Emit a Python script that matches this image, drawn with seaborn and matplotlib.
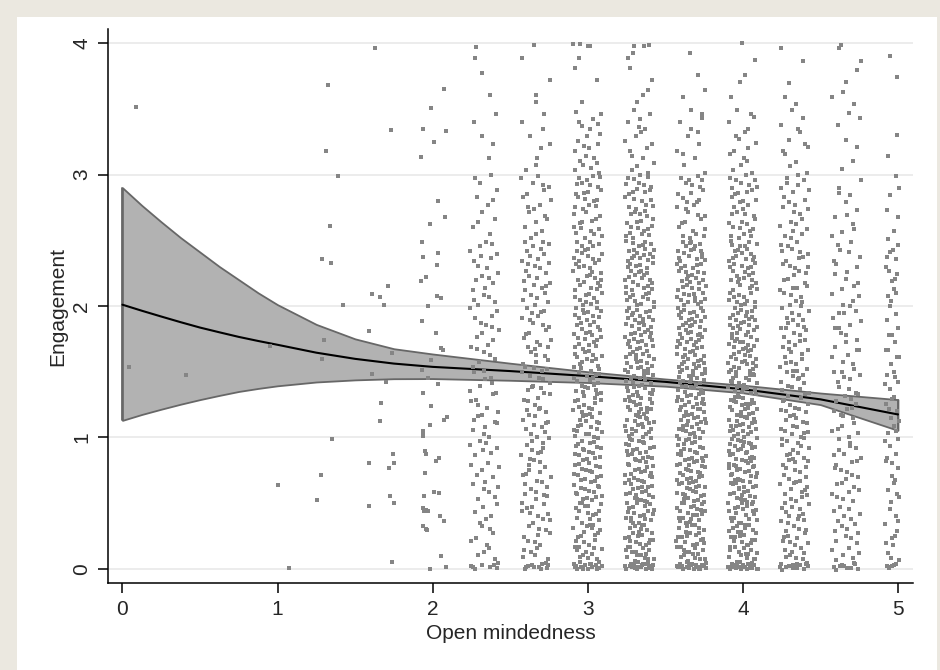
import numpy as np
import pandas as pd
import seaborn as sns
import matplotlib
matplotlib.use("Agg")
import matplotlib.pyplot as plt
from matplotlib.patches import Rectangle

# ---- data ----
# sparse, individually readable points (x already jittered)
sparse_x = [0.042, 0.087, 0.411, 0.949, 1.003, 1.071,
            1.256, 1.280, 1.288, 1.288, 1.301, 1.312, 1.327, 1.340, 1.342, 1.353, 1.390, 1.420,
            1.589, 1.591, 1.591, 1.611, 1.611, 1.630, 1.658, 1.660, 1.665, 1.688, 1.701, 1.710,
            1.720, 1.725, 1.729, 1.736, 1.740, 1.746, 1.750, 1.751,
            1.925, 1.927, 1.931, 1.933, 1.933, 1.935, 1.935, 1.935, 1.935, 1.935, 1.937, 1.940,
            1.945, 1.946, 1.950, 1.956, 1.950, 1.955, 1.960, 1.967, 1.940, 1.955, 1.965, 1.959,
            1.972, 1.972, 1.981, 1.983, 1.985, 1.987, 1.989, 1.990, 2.008, 2.010, 2.019, 2.023,
            2.026, 2.028, 2.032, 2.032, 2.036, 2.043, 2.043, 2.049, 2.052, 2.056, 2.056, 2.068,
            2.071, 2.075, 2.075, 2.081, 2.084, 2.084, 2.090]
sparse_y = [1.539, 3.516, 1.473, 1.694, 0.635, 0.010,
            0.526, 0.711, 2.360, 1.597, 1.745, 3.180, 3.678, 2.608, 2.326, 0.988, 2.987, 2.004,
            0.802, 1.811, 0.482, 2.093, 1.483, 3.960, 1.125, 2.070, 1.265, 2.009, 1.422, 2.154,
            0.770, 0.551, 3.340, 0.053, 1.643, 0.871, 0.505, 0.802,
            3.134, 2.192, 1.516, 2.484, 1.887, 3.350, 1.336, 1.050, 1.030, 1.010, 2.372, 0.460,
            0.440, 0.551, 0.894, 0.876, 0.730, 0.450, 0.445, 0.440, 0.330, 0.300, 0.295, 2.222,
            1.999, 1.453, -0.002, 2.620, 1.095, 1.242, 1.587, 3.505, 3.250, 0.584, 1.796, 0.823,
            2.314, 2.075, 2.800, 1.407, 2.405, 0.843, 0.581, 0.406, 2.063, 1.682, 0.097, 1.663,
            0.366, 3.650, 1.130, 2.680, 3.330, 0.015, 1.158]

# dense columns: counts per engagement band
dense_cols = [7/3, 8/3, 3.0, 10/3, 11/3, 4.0, 13/3, 14/3, 5.0]
band_edges = [0.0, 0.5, 1.0, 1.5, 2.0, 2.5, 3.0, 3.5, 4.0]
floor_counts = [6, 8, 12, 15, 15, 18, 10, 8, 4]       # piled at 0
top_counts = [1, 1, 3, 2, 0, 1, 0, 1, 0]              # piled at 4
band_counts = [
    [18, 20, 22, 20, 22, 12, 5, 3],
    [28, 30, 30, 30, 30, 20, 9, 4],
    [45, 50, 50, 48, 45, 35, 22, 5],
    [60, 62, 62, 60, 55, 40, 18, 8],
    [62, 65, 65, 62, 55, 30, 13, 4],
    [62, 68, 66, 60, 50, 35, 17, 4],
    [36, 38, 38, 35, 30, 25, 13, 5],
    [24, 26, 25, 22, 18, 12, 7, 7],
    [14, 15, 15, 14, 14, 7, 2, 2],
]

# fitted curve and confidence band
fit_x = [0, 0.125, 0.25, 0.375, 0.5, 0.625, 0.75, 0.875, 1.0, 1.25, 1.5, 1.75,
         2.0, 2.5, 3.0, 3.5, 4.0, 4.5, 5.0]
fit_y = [2.01, 1.964, 1.92, 1.877, 1.836, 1.80, 1.765, 1.734, 1.705, 1.645, 1.598, 1.562,
         1.537, 1.505, 1.467, 1.423, 1.367, 1.29, 1.175]
ci_hi = [2.90, 2.765, 2.64, 2.52, 2.41, 2.30, 2.20, 2.10, 2.01, 1.86, 1.75, 1.675,
         1.635, 1.565, 1.50, 1.445, 1.398, 1.338, 1.288]
ci_lo = [1.13, 1.175, 1.215, 1.253, 1.288, 1.32, 1.35, 1.373, 1.393, 1.422, 1.438, 1.447,
         1.448, 1.435, 1.418, 1.39, 1.34, 1.25, 1.054]

x_ticks = [0, 1, 2, 3, 4, 5]
y_ticks = [0, 1, 2, 3, 4]


# spread binned counts over their cells (Halton layout, bases 2 and 3)
def radical_inverse(idx, base):
    idx = np.array(idx, dtype=int)
    r = np.zeros(len(idx))
    f = 1.0
    while (idx > 0).any():
        f /= base
        r += f * (idx % base)
        idx //= base
    return r

def cell(n, start, ylo, yhi):
    i = np.arange(n) + start
    return radical_inverse(i, 2), ylo + radical_inverse(i, 3) * (yhi - ylo)

xs, ys = list(sparse_x), list(sparse_y)
k = 0
for c, col in enumerate(dense_cols):
    cells = [(floor_counts[c], -0.005, 0.04), (top_counts[c], 3.97, 4.0)]
    for b in range(8):
        cells.append((band_counts[c][b], band_edges[b], band_edges[b + 1]))
    for n, lo, hi in cells:
        u, y = cell(n, k * 97 + 11, lo, hi)
        k += 1
        if col == 5.0:
            x = col + 0.01 - u * 0.095
        else:
            x = col + (u * 2 - 1) * 0.095
        xs.extend(x)
        ys.extend(y)

pts = pd.DataFrame({"open": xs, "eng": ys})
fit = pd.DataFrame({"open": fit_x, "eng": fit_y})

# ---- plot ----
sns.set_style("white")
plt.rcParams["font.family"] = ["Liberation Sans", "DejaVu Sans"]

fig = plt.figure(figsize=(9.4, 6.7), dpi=100)
fig.patch.set_facecolor("#EBE8E0")
bg = Rectangle((17 / 940, 0), 920 / 940, (670 - 17) / 670, transform=fig.transFigure,
               facecolor="white", edgecolor="none", zorder=-10)
fig.add_artist(bg)
ax = fig.add_axes([108 / 940, 87 / 670, 805 / 940, 554 / 670])
ax.set_zorder(1)
ax.set_facecolor("white")

ax.fill_between(fit_x, ci_lo, ci_hi, facecolor="#B2B2B2", edgecolor="#676767",
                linewidth=1.3, zorder=2)
ax.plot([fit_x[0], fit_x[0]], [ci_lo[0], ci_hi[0]], color="#676767", lw=1.3, zorder=2)
ax.plot([fit_x[-1], fit_x[-1]], [ci_lo[-1], ci_hi[-1]], color="#676767", lw=1.3, zorder=2)
sns.lineplot(data=fit, x="open", y="eng", color="black", linewidth=1.5,
             estimator=None, ax=ax, zorder=3)
sns.scatterplot(data=pts, x="open", y="eng", s=7, marker="s", color="#858585",
                linewidth=0, ax=ax, zorder=4)

ax.set_xlim(-0.093, 5.097)
ax.set_ylim(-0.107, 4.107)
ax.set_xticks(x_ticks)
ax.set_yticks(y_ticks)
ax.set_xticklabels([str(t) for t in x_ticks], fontsize=15)
ax.set_yticklabels([str(t) for t in y_ticks], fontsize=15, rotation=90, va="center")
ax.tick_params(axis="both", direction="out", length=7, width=1.1, color="black",
               bottom=True, left=True, pad=5)
ax.yaxis.grid(True, color="#EAEAEA", linewidth=1.3, zorder=0)
ax.set_axisbelow(True)
for s in ["top", "right"]:
    ax.spines[s].set_visible(False)
for s in ["left", "bottom"]:
    ax.spines[s].set_color("black")
    ax.spines[s].set_linewidth(1.1)

ax.set_xlabel("Open mindedness", fontsize=15, labelpad=4)
ax.set_ylabel("Engagement", fontsize=15, labelpad=4)

fig.savefig("out.png", dpi=100, facecolor=fig.get_facecolor())
